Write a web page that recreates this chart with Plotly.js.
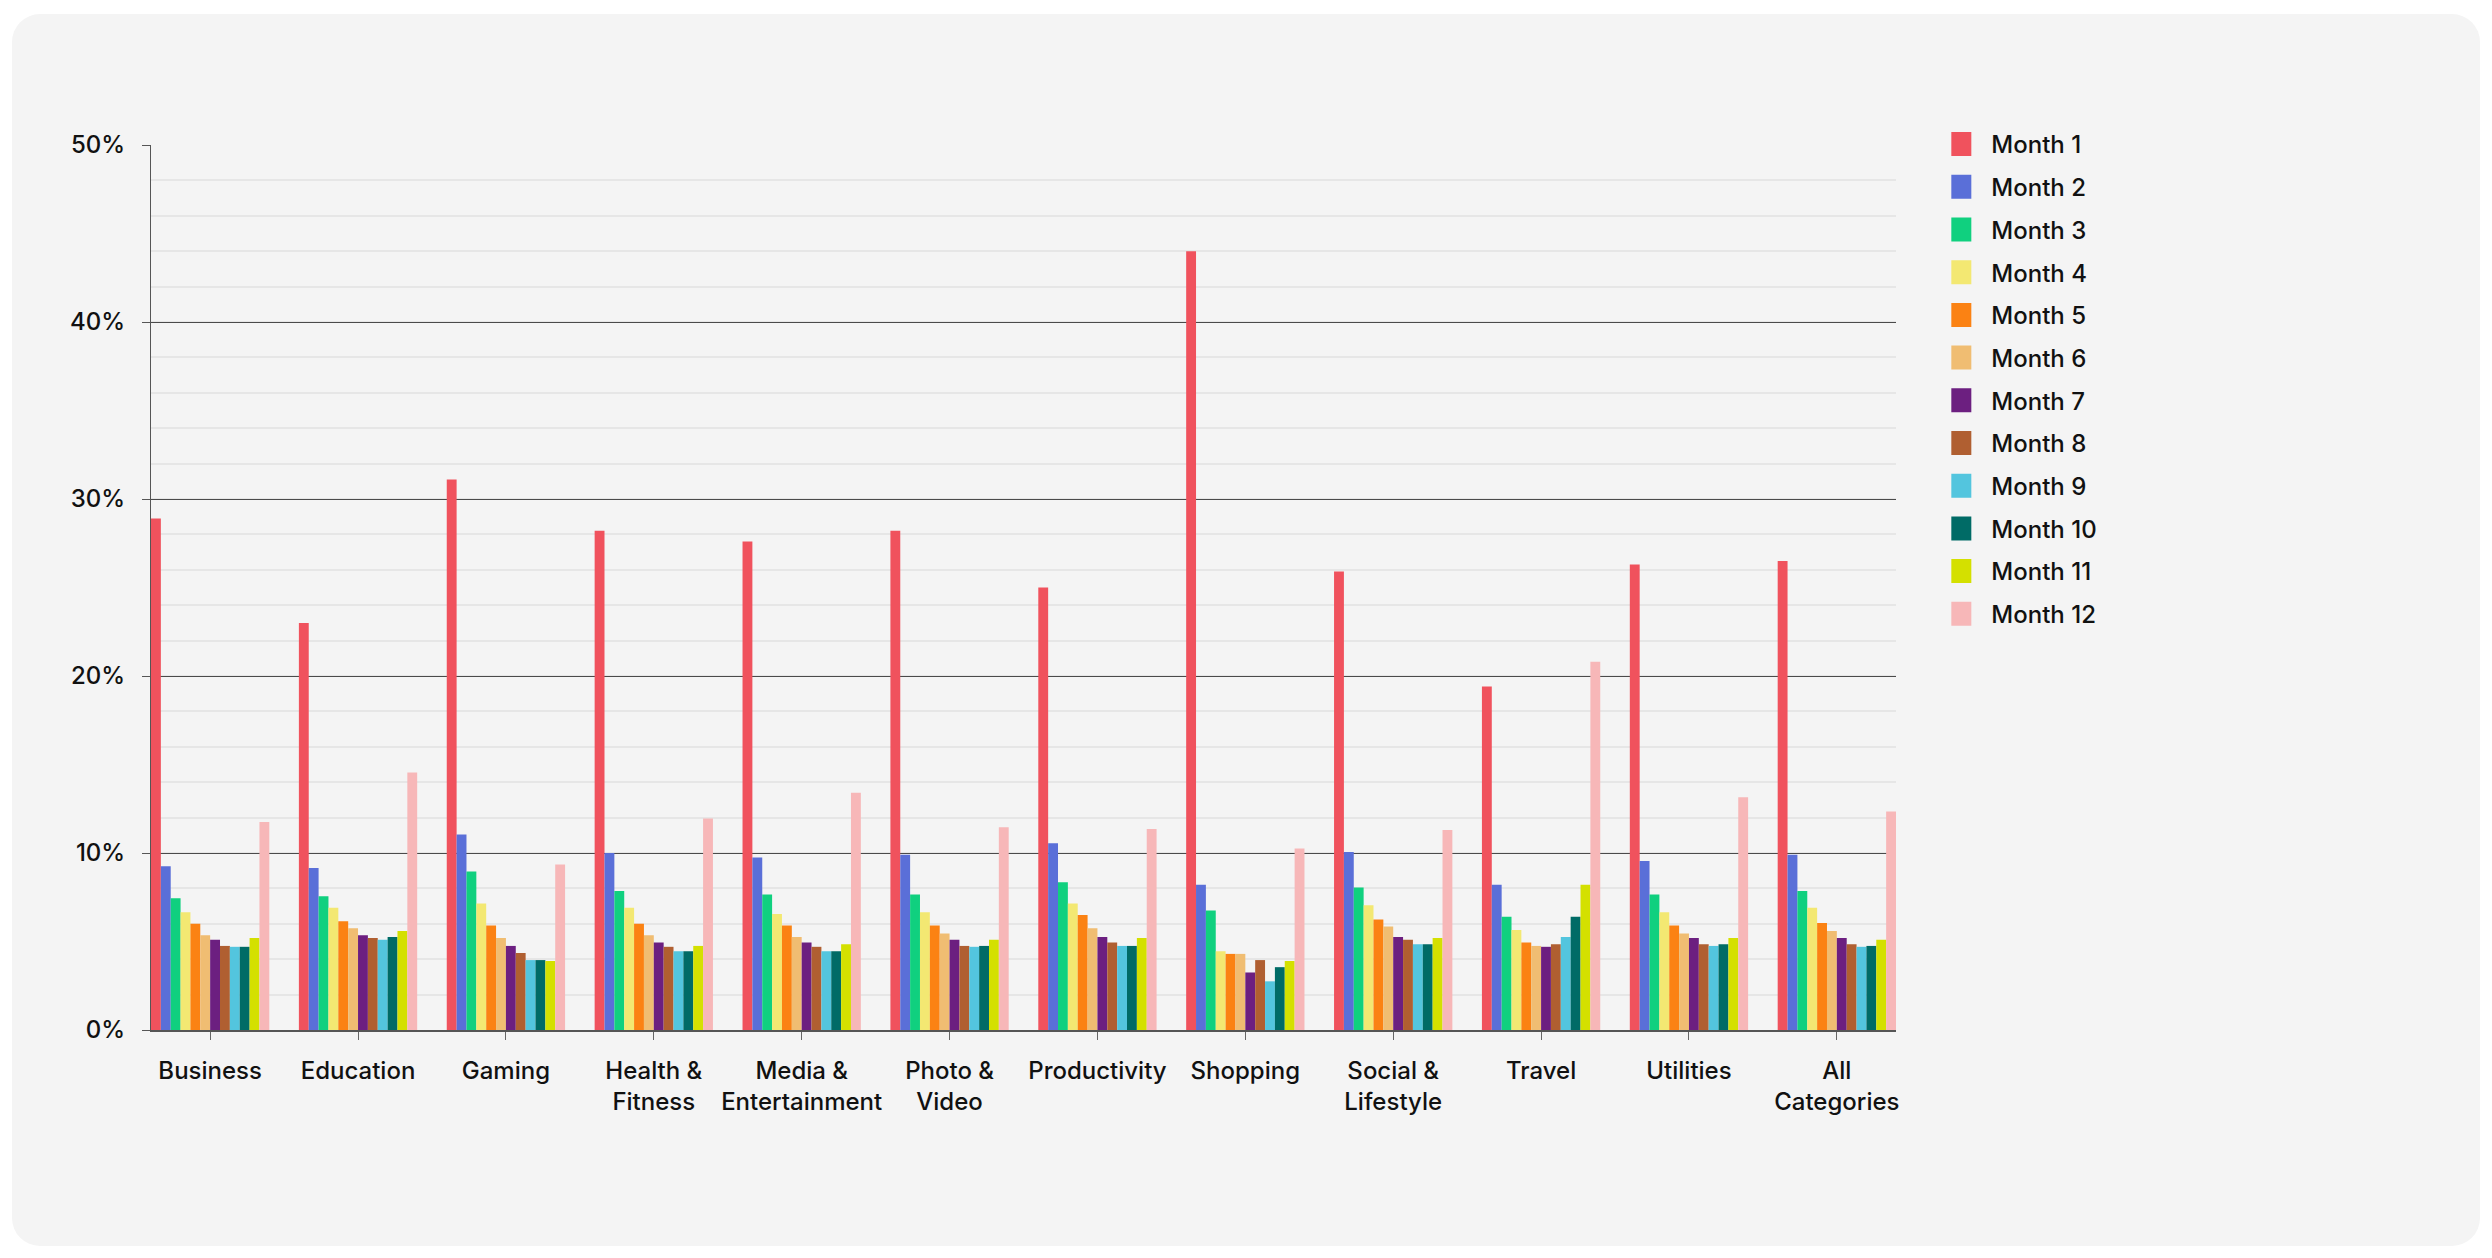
<!DOCTYPE html>
<html>
<head>
<meta charset="utf-8">
<script src="https://cdn.plot.ly/plotly-3.0.1.min.js"></script>
<style>
    html, body { margin: 0; padding: 0; background: #ffffff; }
    #card {
        position: absolute; left: 12px; top: 14px; width: 2468px; height: 1232px;
        background: #f4f4f4; border-radius: 28px;
    }
    #chart { position: absolute; left: 0; top: 0; width: 2492px; height: 1258px; }
</style>
</head>
<body>
<div id="card"></div>
<div id="chart"></div>
<script>
const categories = [
    'Business', 'Education', 'Gaming', 'Health &<br>Fitness', 'Media &<br>Entertainment',
    'Photo &<br>Video', 'Productivity', 'Shopping', 'Social &<br>Lifestyle', 'Travel',
    'Utilities', 'All<br>Categories',
];

const monthNames = [
    'Month 1', 'Month 2', 'Month 3', 'Month 4', 'Month 5', 'Month 6',
    'Month 7', 'Month 8', 'Month 9', 'Month 10', 'Month 11', 'Month 12',
];

const monthColors = [
    '#f0525d', '#5a6fd8', '#10d07f', '#f3e872', '#fb8213', '#f0bd72',
    '#6c1f80', '#b05f31', '#53c5de', '#006b66', '#d4e000', '#f7b7b8',
];

// retention share (%) per category, one array per month
const month1 = [28.9, 23.0, 31.1, 28.2, 27.6, 28.2, 25.0, 44.0, 25.9, 19.4, 26.3, 26.5];
const month2 = [9.25, 9.15, 11.05, 10.0, 9.75, 9.9, 10.55, 8.2, 10.05, 8.2, 9.55, 9.9];
const month3 = [7.45, 7.55, 8.95, 7.85, 7.65, 7.65, 8.35, 6.75, 8.05, 6.4, 7.65, 7.85];
const month4 = [6.65, 6.9, 7.15, 6.9, 6.55, 6.65, 7.15, 4.45, 7.05, 5.65, 6.65, 6.9];
const month5 = [6.0, 6.15, 5.9, 6.0, 5.9, 5.9, 6.5, 4.3, 6.25, 4.95, 5.9, 6.05];
const month6 = [5.35, 5.75, 5.2, 5.35, 5.25, 5.45, 5.75, 4.3, 5.85, 4.75, 5.45, 5.6];
const month7 = [5.1, 5.35, 4.75, 4.95, 4.95, 5.1, 5.25, 3.25, 5.25, 4.7, 5.2, 5.2];
const month8 = [4.75, 5.2, 4.35, 4.7, 4.7, 4.75, 4.95, 3.95, 5.1, 4.85, 4.85, 4.85];
const month9 = [4.7, 5.1, 3.95, 4.45, 4.45, 4.7, 4.75, 2.75, 4.85, 5.25, 4.75, 4.7];
const month10 = [4.7, 5.25, 3.95, 4.45, 4.45, 4.75, 4.75, 3.55, 4.85, 6.4, 4.85, 4.75];
const month11 = [5.2, 5.6, 3.9, 4.75, 4.85, 5.1, 5.2, 3.9, 5.2, 8.2, 5.2, 5.1];
const month12 = [11.75, 14.55, 9.35, 11.95, 13.4, 11.45, 11.35, 10.25, 11.3, 20.8, 13.15, 12.35];

const seriesValues = [month1, month2, month3, month4, month5, month6,
    month7, month8, month9, month10, month11, month12];

const yTicks = [0, 10, 20, 30, 40, 50];
const yTickText = yTicks.map((v) => v + '%');

const fontFamily = 'Inter, "Noto Sans", sans-serif';

const data = seriesValues.map((values, i) => ({
    x: categories,
    y: values,
    name: monthNames[i],
    legendgroup: 'g' + i,
    type: 'bar',
    marker: {
        color: monthColors[i],
        line: {width: 0},
    },
    hovertemplate: '%{x}: %{y:.1f}%<extra>' + monthNames[i] + '</extra>',
}));

const layout = {
    width: 2492,
    height: 1258,
    barmode: 'group',
    bargap: 0.2,
    bargroupgap: 0,
    showlegend: true,
    legend: {
        x: 1.0317,
        y: 1.026,
        xanchor: 'left',
        yanchor: 'top',
        bgcolor: 'rgba(0,0,0,0)',
        tracegroupgap: 8.5,
        font: {family: fontFamily, size: 24, weight: 500, color: '#111111'},
    },
    xaxis: {
        type: 'category',
        range: [-0.4, 11.4],
        showgrid: false,
        showline: true,
        linecolor: '#555555',
        linewidth: 1.5,
        ticks: 'outside',
        ticklen: 8,
        tickcolor: '#666666',
        ticklabelstandoff: 10,
        tickfont: {family: fontFamily, size: 24, weight: 500, color: '#111111'},
        fixedrange: true,
    },
    yaxis: {
        range: [0, 50],
        tickvals: yTicks,
        ticktext: yTickText,
        showline: true,
        linecolor: '#555555',
        linewidth: 1,
        ticks: 'outside',
        ticklen: 8,
        tickcolor: '#555555',
        ticklabelstandoff: 12,
        gridcolor: '#4a4a4a',
        gridwidth: 1.2,
        zeroline: false,
        minor: {
            dtick: 2,
            showgrid: true,
            gridcolor: '#e6e6e6',
            gridwidth: 1.5,
            ticks: '',
        },
        tickfont: {family: fontFamily, size: 24, weight: 500, color: '#111111'},
        fixedrange: true,
    },
    plot_bgcolor: 'rgba(0,0,0,0)',
    paper_bgcolor: 'rgba(0,0,0,0)',
    margin: {l: 151, r: 596, t: 145, b: 228, pad: 0},
    hovermode: 'closest',
};

Plotly.newPlot('chart', data, layout, {displayModeBar: false, responsive: false}).then((gd) => {
    // bigger square swatches, like the original legend
    gd.querySelectorAll('.legend .legendpoints path').forEach((p) => {
        p.setAttribute('d', 'M0,12H-25V-12H0Z');
    });
});
</script>
</body>
</html>
